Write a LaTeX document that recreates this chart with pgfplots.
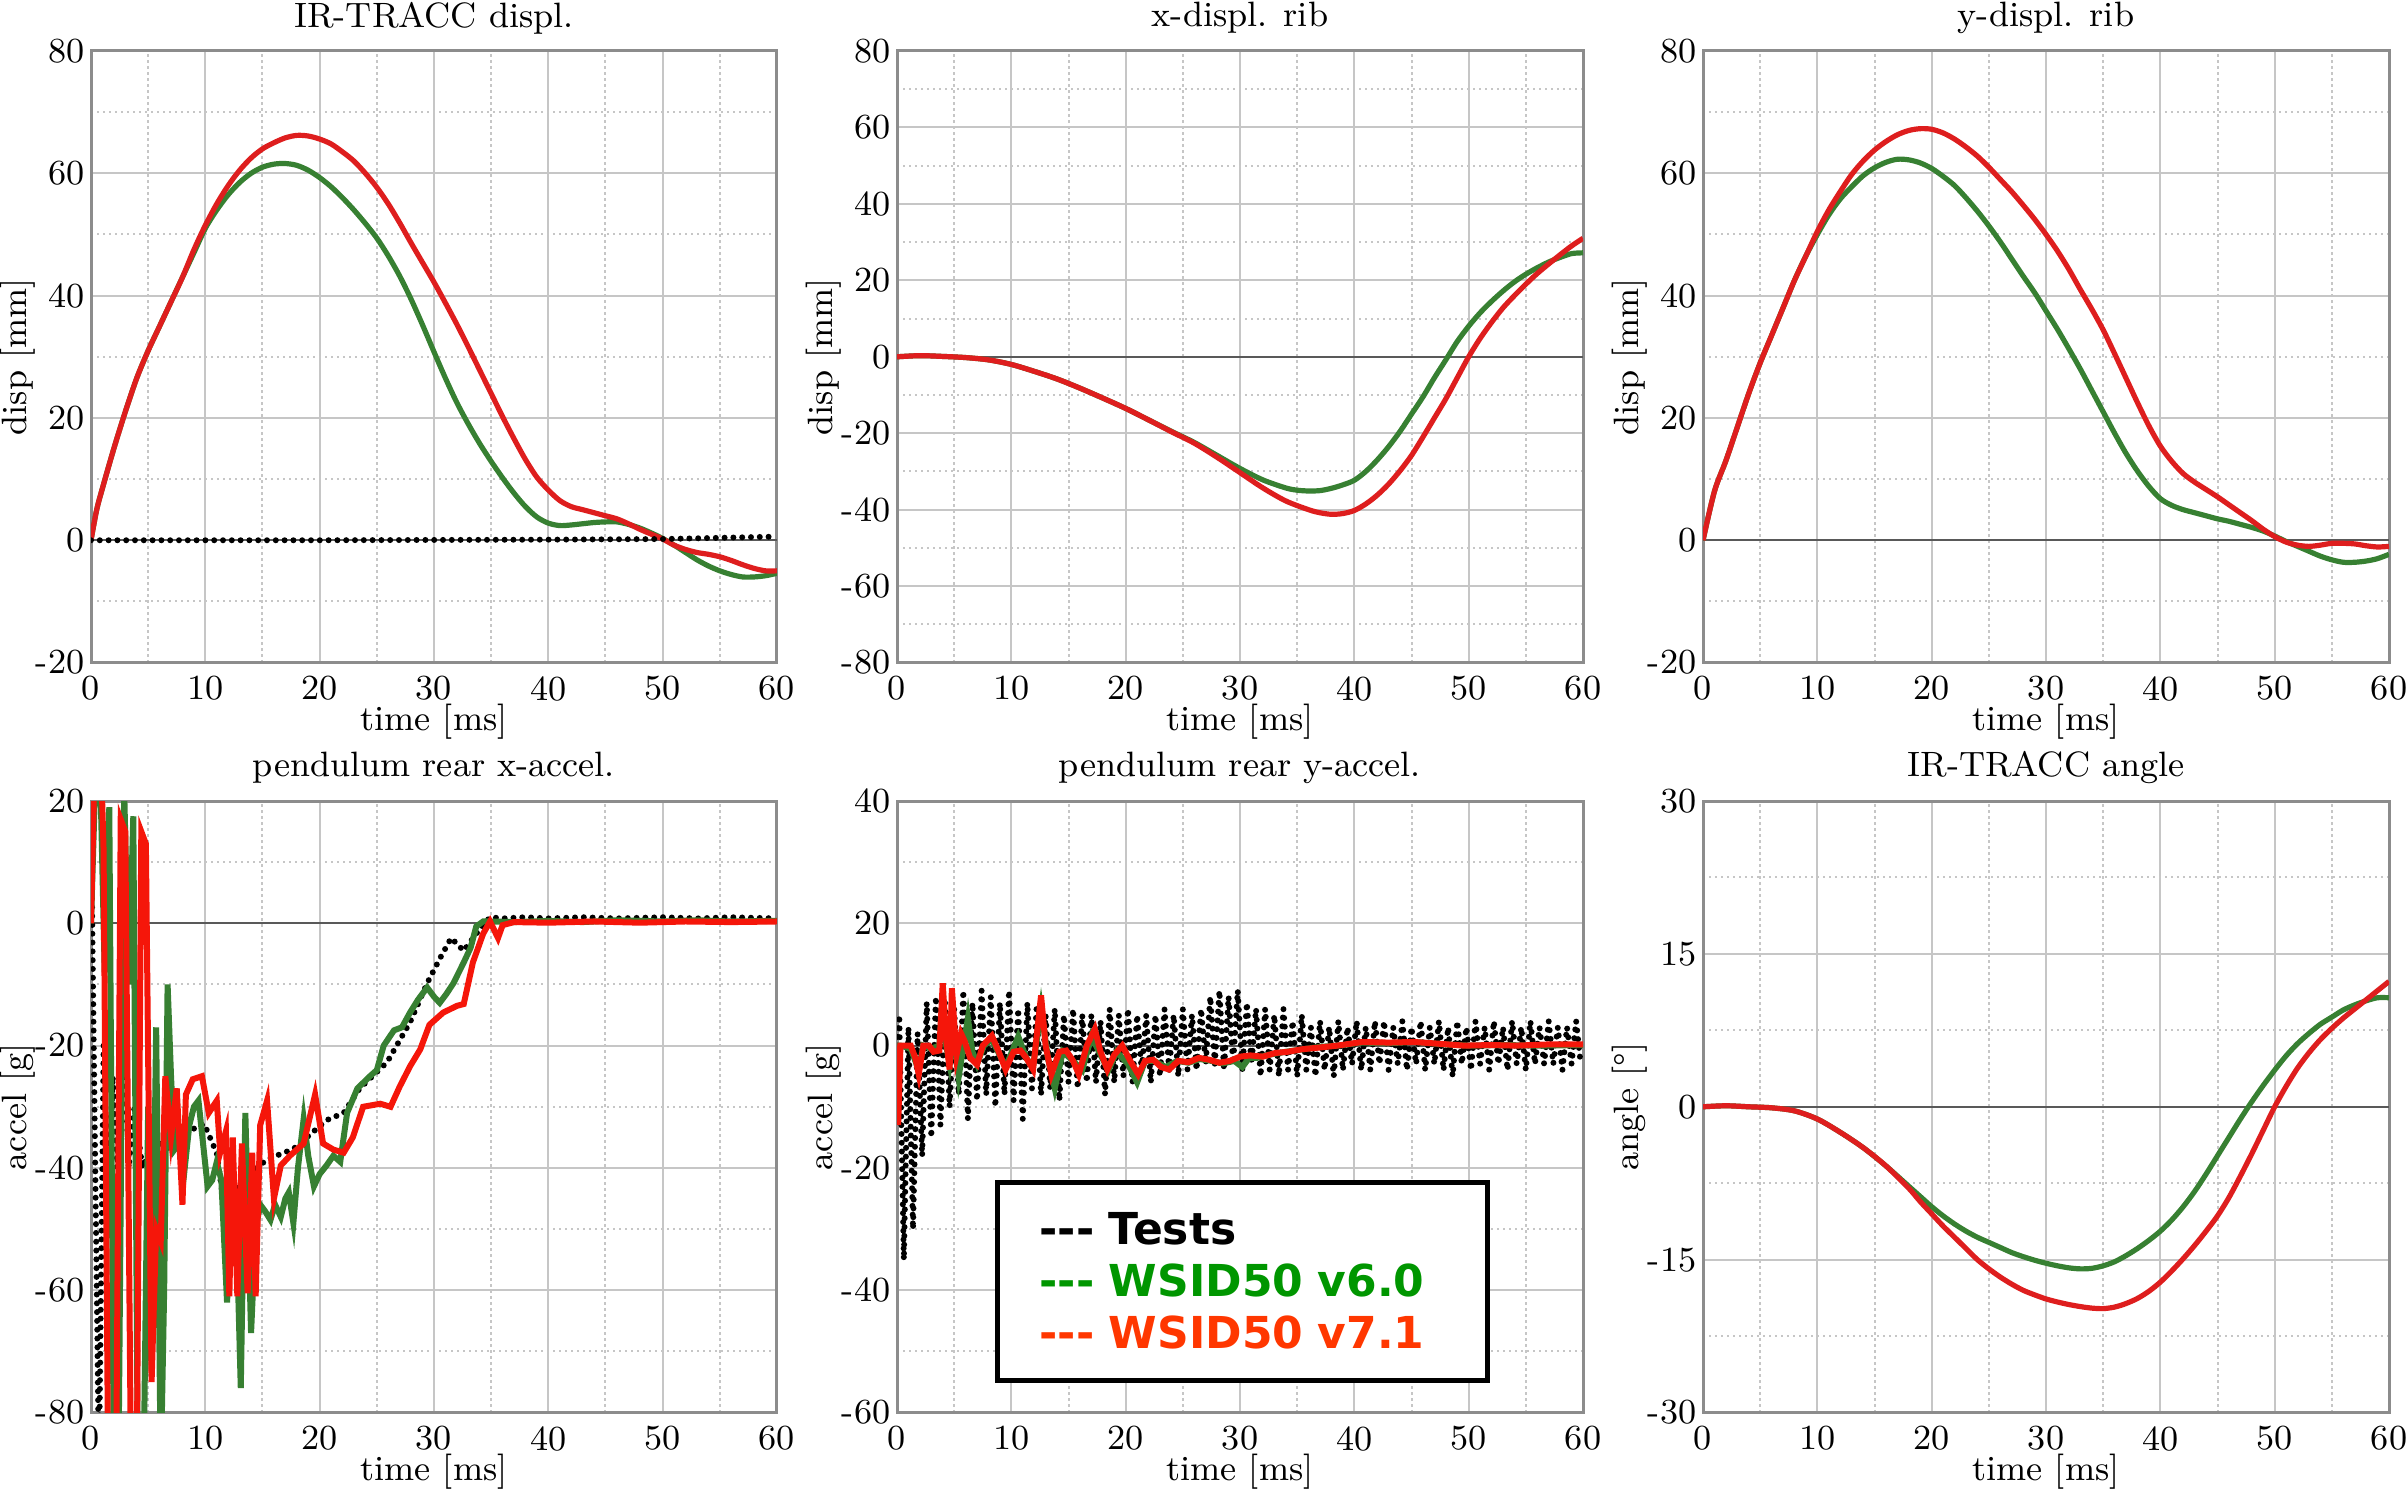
\documentclass[border=0pt]{standalone}
\usepackage{fontspec}
\usepackage{pgfplots}
\pgfplotsset{compat=1.18}
\newfontfamily\legfont{DejaVu Sans}
\definecolor{cred}{RGB}{222,30,30}
\definecolor{cgreen}{RGB}{55,128,50}
\definecolor{bred}{RGB}{245,22,10}
\definecolor{lgreen}{RGB}{0,150,0}
\definecolor{lred}{RGB}{255,55,0}
\pgfplotsset{
  panel/.style={
    anchor=north west, scale only axis, width=171.5pt, height=152.9pt,
    xmin=0, xmax=60, xtick={0,10,...,60}, minor x tick num=1, minor y tick num=1,
    grid=both,
    major grid style={draw=gray!45, line width=0.5pt},
    minor grid style={draw=gray!45, line width=0.5pt, dash pattern=on 0.6pt off 0.9pt},
    axis line style={draw=gray!90, line width=0.75pt},
    major tick length=0pt, minor tick length=0pt,
    /pgf/number format/assume math mode=true,
    ticklabel style={font=\fontsize{8.8}{10}\selectfont},
    xticklabel style={anchor=north, inner sep=0pt, yshift=-3.25pt},
    yticklabel style={anchor=east, inner sep=0pt, xshift=-1.5pt},
    label style={font=\fontsize{8.8}{10}\selectfont},
    title style={font=\fontsize{8.8}{10}\selectfont, at={(axis description cs:0.5,1.054)}, anchor=center, yshift=-6pt},
    xlabel style={at={(axis description cs:0.5,-0.0965)}, anchor=center},
    ylabel style={at={(axis description cs:-0.1064,0.5)}, anchor=center},
    xlabel={time [ms]},
  },
  zero/.style={black!65, line width=0.5pt, forget plot},
  tst/.style={black, line width=1.5pt, line cap=round, dash pattern=on 0pt off 2.2pt},
  gtop/.style={cgreen, line width=1.3pt, smooth, tension=0.5},
  rtop/.style={cred, line width=1.3pt, smooth, tension=0.5},
  gbot/.style={cgreen, line width=1.5pt},
  rbot/.style={bred, line width=1.5pt},
}
\begin{document}
\begin{tikzpicture}
\path[use as bounding box] (0,0) rectangle (601.75pt,372.5pt);

% ---------- IR-TRACC displ.
\begin{axis}[panel, at={(22.75pt,359.75pt)}, ymin=-20, ymax=80, ytick={-20,0,...,80},
  title={IR-TRACC displ.}, ylabel={disp [mm]}]
\addplot[zero] coordinates {(0,0) (60,0)};
\addplot[gtop] coordinates {(0,0)(0.5,5)(1,8.5)(2,15)(3,21)(4,26.5)(5,31)(6,35)(7,39)(8,43)(9,47)
(10,51)(11,54)(12,56.5)(13,58.5)(14,60)(15,61)(16,61.5)(17,61.6)(18,61.3)(19,60.5)(20,59.3)
(21,57.8)(22,56)(23,54)(24,51.8)(25,49.4)(26,46.5)(27,43.2)(28,39.4)(29,35.2)(30,30.8)
(31,26.5)(32,22.5)(33,19)(34,15.8)(35,12.9)(36,10.2)(37,7.7)(38,5.5)(39,3.8)(40,2.8)
(41,2.4)(42,2.5)(43,2.7)(44,2.9)(45,3)(46,3)(47,2.6)(48,2)(49,1.2)(50,0.3)(51,-0.8)
(52,-2)(53,-3.2)(54,-4.2)(55,-5)(56,-5.6)(57,-6)(58,-6)(59,-5.8)(60,-5.4)};
\addplot[rtop] coordinates {(0,0)(0.5,5)(1,8.5)(2,15)(3,21)(4,26.5)(5,31)(6,35)(7,39)(8,43)(9,47.5)
(10,51.5)(11,55)(12,58)(13,60.5)(14,62.5)(15,64)(16,65)(17,65.8)(18,66.2)(19,66.1)(20,65.6)
(21,64.8)(22,63.5)(23,62)(24,60)(25,57.7)(26,55)(27,51.9)(28,48.6)(29,45.4)(30,42.2)
(31,38.8)(32,35.3)(33,31.6)(34,27.8)(35,24)(36,20.2)(37,16.6)(38,13.2)(39,10.3)(40,8.2)
(41,6.5)(42,5.5)(43,5)(44,4.5)(45,4)(46,3.5)(47,2.7)(48,1.8)(49,1)(50,0.2)(51,-0.8)
(52,-1.5)(53,-2)(54,-2.3)(55,-2.7)(56,-3.3)(57,-4)(58,-4.6)(59,-5)(60,-5)};
\addplot[tst] coordinates {(0,0)(20,0)(40,0.1)(50,0.2)(60,0.6)};
\end{axis}

% ---------- x-displ. rib
\begin{axis}[panel, at={(224.25pt,359.75pt)}, ymin=-80, ymax=80, ytick={-80,-60,...,80},
  title={x-displ. rib}, ylabel={disp [mm]}]
\addplot[zero] coordinates {(0,0) (60,0)};
\addplot[gtop] coordinates {(0,0)(2,0.3)(4,0.1)(6,-0.2)(8,-0.8)(10,-2)(12,-3.8)(14,-5.8)(16,-8.2)
(18,-10.8)(20,-13.5)(22,-16.5)(24,-19.5)(26,-22.4)(28,-25.8)(30,-29.2)(32,-32.2)(34,-34.3)
(35,-34.9)(36,-35.1)(37,-35)(38,-34.4)(39,-33.5)(40,-32.3)(41,-30)(42,-27)(43,-23.5)
(44,-19.5)(45,-15)(46,-10.5)(47,-5.5)(48,-0.8)(49,4)(50,8)(51,11.5)(52,14.5)(53,17.2)
(54,19.6)(55,21.6)(56,23.3)(57,24.8)(58,26)(59,27)(60,27.2)};
\addplot[rtop] coordinates {(0,0)(2,0.3)(4,0.1)(6,-0.2)(8,-0.8)(10,-2)(12,-3.8)(14,-5.8)(16,-8.2)
(18,-10.8)(20,-13.5)(22,-16.5)(24,-19.6)(26,-22.6)(28,-26.3)(30,-30.3)(32,-34.3)(34,-37.7)
(36,-40)(37,-40.8)(38,-41.2)(39,-41)(40,-40.2)(41,-38.5)(42,-36.2)(43,-33.3)(44,-29.8)
(45,-25.8)(46,-21)(47,-16)(48,-11)(49,-5.5)(50,0)(51,4.8)(52,9)(53,12.8)(54,16)(55,19)
(56,21.8)(57,24.3)(58,26.7)(59,29)(60,31)};
\end{axis}

% ---------- y-displ. rib
\begin{axis}[panel, at={(425.75pt,359.75pt)}, ymin=-20, ymax=80, ytick={-20,0,...,80},
  title={y-displ. rib}, ylabel={disp [mm]}]
\addplot[zero] coordinates {(0,0) (60,0)};
\addplot[gtop] coordinates {(0,0)(1,8)(2,13)(3,18.5)(4,24)(5,29)(6,33.5)(7,38)(8,42.5)(9,46.5)
(10,50)(11,53.2)(12,55.8)(13,57.8)(14,59.6)(15,60.9)(16,61.8)(17,62.3)(18,62.2)(19,61.7)
(20,60.8)(21,59.5)(22,58)(23,56)(24,53.8)(25,51.4)(26,48.8)(27,46)(28,43.2)(29,40.5)
(30,37.5)(31,34.5)(32,31.3)(33,28)(34,24.5)(35,21)(36,17.5)(37,14.2)(38,11.3)(39,8.8)
(40,6.8)(41,5.7)(42,5)(43,4.5)(44,4)(45,3.5)(46,3.1)(47,2.6)(48,2.1)(49,1.5)(50,0.7)
(51,-0.2)(52,-1)(53,-1.8)(54,-2.6)(55,-3.2)(56,-3.6)(57,-3.6)(58,-3.4)(59,-3)(60,-2.3)};
\addplot[rtop] coordinates {(0,0)(1,8)(2,13)(3,18.5)(4,24)(5,29)(6,33.5)(7,38)(8,42.5)(9,46.5)
(10,50.5)(11,54)(12,57)(13,59.8)(14,62)(15,63.8)(16,65.2)(17,66.3)(18,67)(19,67.3)
(20,67.2)(21,66.6)(22,65.6)(23,64.3)(24,62.8)(25,61)(26,59)(27,57)(28,54.8)(29,52.5)
(30,50)(31,47.3)(32,44.3)(33,41)(34,37.8)(35,34.4)(36,30.5)(37,26.5)(38,22.5)(39,18.7)
(40,15.4)(41,12.9)(42,10.9)(43,9.5)(44,8.3)(45,7.1)(46,5.8)(47,4.5)(48,3.2)(49,1.8)
(50,0.6)(51,-0.3)(52,-0.8)(53,-1)(54,-0.8)(55,-0.5)(56,-0.5)(57,-0.6)(58,-0.9)(59,-1.1)(60,-1)};
\end{axis}

% ---------- pendulum rear x-accel.
\begin{axis}[panel, at={(22.75pt,172.25pt)}, ymin=-80, ymax=20, ytick={-80,-60,...,20},
  title={pendulum rear x-accel.}, ylabel={accel [g]}]
\addplot[zero] coordinates {(0,0) (60,0)};
\addplot[tst] coordinates {(0,17)(0.7,-90)(1.1,-20)(1.5,-46)(1.9,-25)(2.3,-40)(2.8,-14)(3.3,-40)
(3.8,-30)(4.5,-40)(5.5,-35)(6.5,-37)(7.5,-36)(8.5,-34)(9.9,-32.8)(11.0,-37.6)(11.6,-45.7)
(12.5,-44)(13.5,-42)(14.5,-40)(15.4,-38.6)(17.7,-36.9)(20.6,-32.2)(22.1,-31)(23.5,-27)
(25.9,-22.7)(27.9,-16.2)(29.4,-9.8)(30.5,-5.8)(31.5,-2.4)(32.6,-4.5)(33.7,-1.7)(34.9,1.0)
(36,0.8)(38,1)(40,0.8)(43,1)(46,0.8)(50,1)(53,0.8)(56,1)(60,0.8)};
\addplot[gbot] coordinates {(0,0)(0.4,25)(0.8,25)(1.2,-8)(1.6,19)(2.0,-90)(2.4,-90)(2.9,22)(3.3,-10)
(3.7,17.5)(4.1,-90)(4.6,-90)(5.0,-30)(5.3,-74)(5.7,-17)(6.1,-90)(6.4,-60)(6.7,-10)(7.0,-25)
(7.3,-37)(7.7,-36)(8.2,-40)(8.6,-33)(9.0,-30)(9.4,-29)(9.8,-36)(10.2,-43)(10.6,-42)(11.0,-39)
(11.4,-42)(11.9,-62)(12.2,-50)(12.5,-44)(12.8,-55)(13.1,-76)(13.5,-31)(14.0,-67)(14.4,-50)
(14.8,-46)(15.2,-47)(15.7,-48.5)(16.1,-46)(16.6,-48)(17.0,-45)(17.3,-44)(17.7,-49)(18.1,-40)
(18.6,-32)(19.0,-38)(19.5,-43)(20.0,-41)(20.6,-39.6)(21.2,-38)(21.8,-39)(22.4,-31)(23.3,-27)
(24.4,-25)(25.0,-24)(25.6,-20)(26.5,-17.5)(27.2,-17)(27.9,-14.6)(28.6,-12.5)(29.4,-10.5)
(30.0,-12)(30.5,-13)(31.1,-11.5)(31.7,-9.8)(32.6,-6.4)(33.2,-4)(33.7,-0.5)(34.3,0.3)(35,0.3)
(37,0.2)(40,0.4)(43,0.2)(46,0.5)(50,0.3)(53,0.5)(56,0.3)(60,0.4)};
\addplot[rbot] coordinates {(0,0)(0.3,25)(0.9,25)(1.1,12)(1.5,-90)(2.2,-90)(2.6,17)(3.0,15)(3.5,-90)
(4.0,-90)(4.4,15)(4.8,13)(5.3,-75)(5.7,-50)(6.1,-52)(6.5,-25)(7.0,-35)(7.5,-27)(8.0,-46)
(8.3,-28)(8.9,-25.5)(9.7,-25)(10.3,-31)(11.0,-29)(11.3,-37.5)(11.8,-34)(12.1,-61)(12.4,-35)
(12.8,-61)(13.2,-36)(13.7,-60.5)(14.1,-37.5)(14.4,-61)(14.8,-33)(15.4,-29)(16.0,-45)
(16.6,-39.6)(17.4,-38)(18.0,-37)(18.6,-36)(19.6,-28)(20.3,-36)(21.2,-37)(22.1,-37.5)
(22.9,-35)(23.8,-30)(25.3,-29.5)(26.2,-30)(27.0,-26.7)(27.9,-23.4)(28.8,-20.6)(29.6,-16.6)
(30.8,-14.6)(32.0,-13.5)(32.6,-13.2)(33.4,-6.4)(34.3,-1.7)(34.9,0.3)(35.6,-2.4)(36.0,-0.3)
(37,0.2)(40,0.1)(44,0.3)(48,0.1)(52,0.3)(56,0.2)(60,0.3)};
\end{axis}

% ---------- pendulum rear y-accel.
\begin{axis}[panel, at={(224.25pt,172.25pt)}, ymin=-60, ymax=40, ytick={-60,-40,...,40},
  title={pendulum rear y-accel.}, ylabel={accel [g]}]
\addplot[zero] coordinates {(0,0) (60,0)};
\addplot[tst] coordinates {(0,0)(0.2,5)(0.6,-35)(1.0,3)(1.4,-30)(1.8,2)(2.2,-18)(2.6,7)(3.0,-15)
(3.4,8)(3.8,-13)(4.2,7)(4.6,-10)(5.0,6)(5.4,-8)(5.8,9)(6.2,-12)(6.6,7)(7.0,-9)(7.4,9)(7.8,-8)
(8.2,8)(8.6,-10)(9.0,7)(9.4,-8)(9.8,9)(10.2,-9)(10.6,6)(11.0,-12)(11.4,7)(11.8,-7)(12.2,6)
(12.6,-8)(13.0,5)(13.4,-7)(13.8,6)(14.2,-9)(14.6,5)(15.0,-6)(15.4,6)(15.8,-7)(16.2,5)(16.6,-6)
(17.0,5)(17.4,-6)(17.8,4)(18.2,-8)(18.6,6)(19.0,-6)(19.4,5)(19.8,-5)(20.2,6)(20.6,-6)(21.0,5)
(21.4,-4)(21.8,5)(22.2,-6)(22.6,5)(23.0,-5)(23.4,6)(23.8,-4)(24.2,5)(24.6,-5)(25.0,6)(25.4,-4)
(25.8,5)(26.2,-4)(26.6,6)(27.0,-3)(27.4,8)(27.8,-3)(28.2,9)(28.6,-4)(29.0,8)(29.4,-3)(29.8,9)
(30.2,-4)(30.6,7)(31.0,-3)(31.4,6)(31.8,-5)(32.2,6)(32.6,-4)(33.0,5)(33.4,-5)(33.8,6)(34.2,-4)
(34.6,4)(35.0,-5)(35.4,5)(35.8,-4)(36.2,3)(36.6,-5)(37.0,4)(37.4,-4)(37.8,3)(38.2,-5)(38.6,4)
(39.0,-4)(39.4,3)(39.8,-3)(40.2,4)(40.6,-4)(41.0,3)(41.4,-4)(41.8,4)(42.2,-3)(42.6,4)(43.0,-4)
(43.4,3)(43.8,-3)(44.2,4)(44.6,-4)(45.0,3)(45.4,-3)(45.8,4)(46.2,-4)(46.6,3)(47.0,-3)(47.4,4)
(47.8,-4)(48.2,3)(48.6,-5)(49.0,4)(49.4,-3)(49.8,3)(50.2,-4)(50.6,4)(51.0,-3)(51.4,3)(51.8,-4)
(52.2,4)(52.6,-3)(53.0,3)(53.4,-4)(53.8,4)(54.2,-3)(54.6,3)(55.0,-4)(55.4,4)(55.8,-3)(56.2,3)
(56.6,-3)(57.0,4)(57.4,-3)(57.8,3)(58.2,-4)(58.6,3)(59.0,-3)(59.4,4)(59.8,-3)};
\addplot[gbot] coordinates {(0,0)(0.3,0)(1.2,-0.5)(1.9,-4)(2.3,0)(3.0,-0.5)(3.7,0)(4.0,8)(4.3,0)
(4.6,-3)(5.0,2)(5.4,-5)(6.2,4.5)(6.6,-1)(7.0,-3)(7.6,0)(8.3,1)(9.5,-3.5)(10.6,1.5)(11.3,-2)
(11.9,-3.5)(12.6,6)(13.2,-2)(13.8,-7)(14.5,-1)(15.4,-2.5)(16.2,-4)(17.0,1.5)(17.8,-1.5)
(18.5,-4)(19.2,-1)(20.2,-3)(21.0,-6)(21.7,-2.5)(22.5,-2.5)(23.5,-3.5)(24.5,-2.5)(25.5,-2.8)
(26.5,-2.2)(27.5,-2.5)(28.5,-2.9)(29.5,-2.5)(30.2,-3.5)(30.8,-2)(31.5,-2)(32.5,-1.5)(34,-1)
(35.5,-0.6)(37,-0.2)(38.5,0)(40.7,0.5)(43,0.4)(45.2,0.6)(48,0.2)(50,0)(53,0.1)(56,0)(60,0.1)};
\addplot[rbot] coordinates {(0,0)(0.1,-13)(0.3,0)(1.2,0)(1.6,-2)(1.9,-4.7)(2.3,0)(2.8,0)(3.2,-1)
(3.7,-0.8)(4.0,10.2)(4.3,1)(4.6,-3.9)(4.8,9.4)(5.2,-1.6)(5.6,2)(5.9,0.8)(6.4,-2)(7.0,-3.1)
(7.5,0)(8.3,1.6)(8.9,-1)(9.5,-3.9)(10.2,-1)(10.8,-0.8)(11.3,-2)(11.9,-3.9)(12.6,8.2)(13.0,0)
(13.5,-4.7)(14.2,-1)(14.8,-0.8)(15.4,-2.5)(15.9,-4.7)(16.6,0)(17.3,2.7)(17.8,-1)(18.4,-3.9)
(19.0,-1.5)(19.7,0)(20.4,-2.5)(21.1,-4.7)(21.7,-2.5)(22.4,-2.3)(23.1,-3.5)(23.8,-3.9)
(24.6,-2.5)(25.5,-2.7)(26.4,-2)(27.3,-2.3)(28.2,-2.8)(29.1,-2.5)(30.0,-1.8)(30.9,-1.6)(32,-1.8)
(33.1,-1.2)(34.2,-1.0)(35.4,-0.6)(37,-0.3)(38.5,0)(40.7,0.6)(43,0.5)(45.2,0.6)(47.5,0.3)
(49.6,0)(52,0.1)(54.1,0)(57,0.2)(60,0.2)};
\node[draw=black, line width=1.2pt, fill=white, anchor=south west, minimum width=122.5pt,
  minimum height=49.5pt, inner xsep=10.5pt, inner ysep=0pt, text width=101.5pt, align=left,
  font=\legfont\bfseries\fontsize{11}{13}\selectfont] at (rel axis cs:0.143,0.049)
  {\textcolor{black}{-{}-{}- Tests}\\ \textcolor{lgreen}{-{}-{}- WSID50 v6.0}\\ \textcolor{lred}{-{}-{}- WSID50 v7.1}};
\end{axis}

% ---------- IR-TRACC angle
\begin{axis}[panel, at={(425.75pt,172.25pt)}, ymin=-30, ymax=30, ytick={-30,-15,...,30},
  title={IR-TRACC angle}, ylabel={angle [\textdegree]}]
\addplot[zero] coordinates {(0,0) (60,0)};
\addplot[gtop] coordinates {(0,0)(2,0.1)(4,0)(6,-0.1)(8,-0.4)(10,-1.2)(12,-2.5)(14,-4)(16,-5.8)
(18,-7.8)(19,-8.8)(20,-9.8)(21,-10.7)(22,-11.5)(23,-12.2)(24,-12.8)(25,-13.3)(26,-13.8)
(27,-14.3)(28,-14.7)(29,-15.05)(30,-15.35)(31,-15.6)(32,-15.8)(33,-15.9)(34,-15.85)(35,-15.6)
(36,-15.2)(37,-14.6)(38,-13.9)(39,-13.1)(40,-12.2)(41,-11.1)(42,-9.8)(43,-8.3)(44,-6.6)
(45,-4.8)(46,-3)(47,-1.2)(48,0.5)(49,2.1)(50,3.6)(51,5)(52,6.2)(53,7.2)(54,8.1)(55,8.8)
(56,9.5)(57,10)(58,10.4)(59,10.7)(60,10.7)};
\addplot[rtop] coordinates {(0,0)(2,0.1)(4,0)(6,-0.1)(8,-0.4)(10,-1.2)(12,-2.5)(14,-4)(16,-5.8)
(18,-8)(19,-9.3)(20,-10.5)(21,-11.7)(22,-12.8)(23,-13.9)(24,-15)(25,-15.9)(26,-16.7)
(27,-17.4)(28,-18)(29,-18.45)(30,-18.85)(31,-19.15)(32,-19.4)(33,-19.6)(34,-19.75)(35,-19.8)
(36,-19.65)(37,-19.3)(38,-18.8)(39,-18.1)(40,-17.2)(41,-16.1)(42,-14.9)(43,-13.6)(44,-12.2)
(45,-10.7)(46,-8.9)(47,-6.8)(48,-4.6)(49,-2.3)(50,0)(51,2)(52,3.8)(53,5.3)(54,6.6)(55,7.7)
(56,8.7)(57,9.6)(58,10.5)(59,11.4)(60,12.3)};
\end{axis}
\end{tikzpicture}
\end{document}
